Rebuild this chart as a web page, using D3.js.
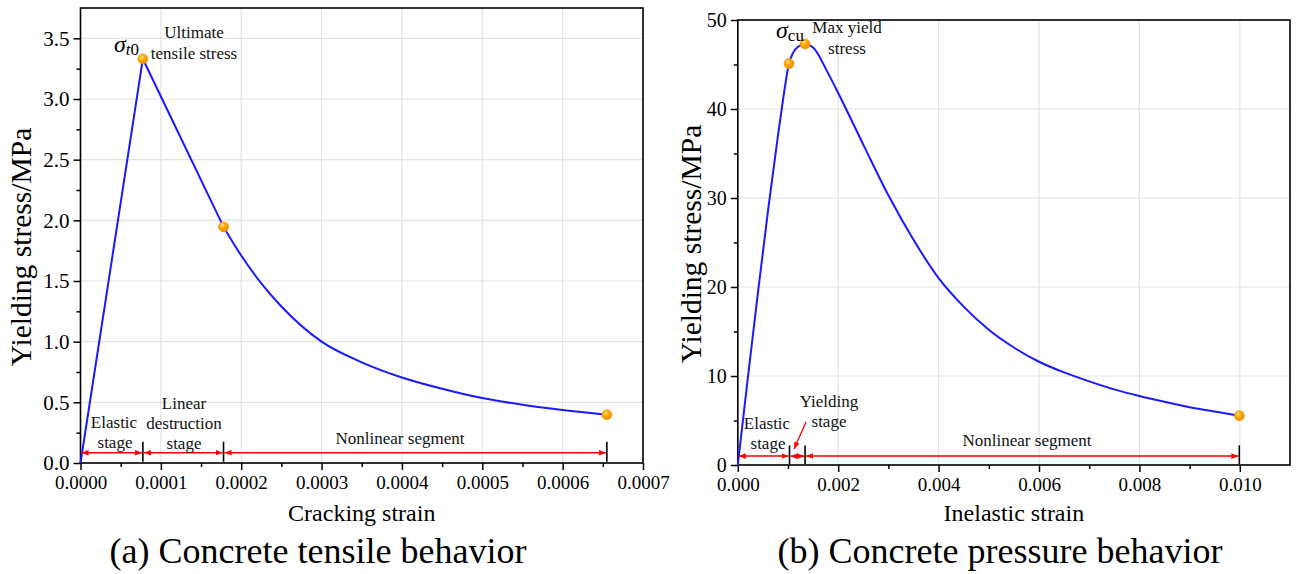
<!DOCTYPE html>
<html>
<head>
<meta charset="utf-8">
<script src="https://cdn.jsdelivr.net/npm/d3@7"></script>
<style>
  body { margin: 0; background: #fff; }
  svg { font-family: "Liberation Serif", "Times New Roman", serif; }
</style>
</head>
<body>
<svg width="1298" height="574"></svg>
<script>
// (a) tensile: cracking strain vs yielding stress
const tensileStrain = [0, 0.0000776, 0.000178, 0.0002, 0.000225, 0.00025, 0.0003, 0.00035, 0.0004, 0.00045, 0.0005, 0.00055, 0.0006, 0.000655];
const tensileStress = [0, 3.33, 1.946, 1.71, 1.48, 1.29, 1.0, 0.83, 0.705, 0.612, 0.535, 0.48, 0.437, 0.398];
const tensileMarks = [1, 2, 13];
const tensileStages = [0, 0.0000776, 0.000178, 0.000655];

// (b) compression: inelastic strain vs yielding stress
const pressStrain = [0, 0.0002, 0.0004, 0.0006, 0.0008, 0.0009, 0.00102, 0.0011, 0.0012, 0.00134, 0.0015, 0.0018, 0.002, 0.0025, 0.003, 0.0035, 0.004, 0.0045, 0.005, 0.0055, 0.006, 0.0065, 0.007, 0.0075, 0.008, 0.0085, 0.009, 0.0095, 0.00999];
const pressStress = [0, 9.8, 19.3, 28.5, 37.0, 41.0, 45.1, 46.3, 47.0, 47.3, 46.9, 44.0, 41.8, 36.0, 30.3, 25.3, 21.0, 17.8, 15.2, 13.2, 11.6, 10.4, 9.4, 8.5, 7.75, 7.1, 6.5, 6.0, 5.54];
const pressMarks = [6, 9, 28];
const pressStages = [0, 0.00103, 0.00134, 0.00999];

const tensileXTicks = [0, 0.0001, 0.0002, 0.0003, 0.0004, 0.0005, 0.0006, 0.0007];
const tensileYTicks = [0, 0.5, 1.0, 1.5, 2.0, 2.5, 3.0, 3.5];
const pressXTicks = [0, 0.002, 0.004, 0.006, 0.008, 0.010];
const pressYTicks = [0, 10, 20, 30, 40, 50];

const svg = d3.select("svg");

const defs = svg.append("defs");
const grad = defs.append("radialGradient").attr("id", "dot").attr("cx", "40%").attr("cy", "35%").attr("r", "65%");
grad.append("stop").attr("offset", "0%").attr("stop-color", "#ffe08a");
grad.append("stop").attr("offset", "45%").attr("stop-color", "#ffa800");
grad.append("stop").attr("offset", "100%").attr("stop-color", "#f08c00");

["arrowEnd", "arrowStart"].forEach((id, i) => {
    defs.append("marker")
        .attr("id", id)
        .attr("viewBox", "0 0 10 10")
        .attr("refX", i === 0 ? 10 : 0).attr("refY", 5)
        .attr("markerWidth", 7).attr("markerHeight", 7)
        .attr("markerUnits", "userSpaceOnUse")
        .attr("orient", "auto")
      .append("path")
        .attr("d", i === 0 ? "M0,1L10,5L0,9Z" : "M10,1L0,5L10,9Z")
        .attr("fill", "red");
});

function panel(opt) {
    const x = d3.scaleLinear().domain(opt.xDomain).range(opt.xRange);
    const y = d3.scaleLinear().domain(opt.yDomain).range(opt.yRange);
    const g = svg.append("g");
    const [x0, x1] = opt.xRange, [y0, y1] = opt.yRange;

    // grid
    g.selectAll(".gx").data(opt.xTicks).enter().append("line")
        .attr("x1", d => x(d)).attr("x2", d => x(d))
        .attr("y1", y0).attr("y2", y1)
        .attr("stroke", "#e3e3e3").attr("stroke-width", 1.2);
    g.selectAll(".gy").data(opt.yTicks).enter().append("line")
        .attr("x1", x0).attr("x2", x1)
        .attr("y1", d => y(d)).attr("y2", d => y(d))
        .attr("stroke", "#e3e3e3").attr("stroke-width", 1.2);

    // minor ticks
    const xm = g.append("g").attr("transform", "translate(0," + y0 + ")")
        .call(d3.axisBottom(x).tickValues(opt.xMinor).tickSize(4).tickFormat(""));
    const ym = g.append("g").attr("transform", "translate(" + x0 + ",0)")
        .call(d3.axisLeft(y).tickValues(opt.yMinor).tickSize(4).tickFormat(""));

    const xa = g.append("g").attr("transform", "translate(0," + y0 + ")")
        .call(d3.axisBottom(x).tickValues(opt.xTicks).tickSize(7).tickPadding(6).tickFormat(opt.xFormat));
    const ya = g.append("g").attr("transform", "translate(" + x0 + ",0)")
        .call(d3.axisLeft(y).tickValues(opt.yTicks).tickSize(7).tickPadding(4).tickFormat(opt.yFormat));
    [xm, ym, xa, ya].forEach(a => {
        a.select(".domain").remove();
        a.selectAll("line").attr("stroke", "#000").attr("stroke-width", 1.5);
        a.selectAll("text").attr("font-family", "Liberation Serif").attr("font-size", 19).attr("fill", "#000");
    });
    ya.selectAll("text").attr("font-size", opt.yTickSize);

    // frame
    g.append("rect").attr("x", x0).attr("y", y1).attr("width", x1 - x0).attr("height", y0 - y1)
        .attr("fill", "none").attr("stroke", "#000").attr("stroke-width", 1.6);

    // curve
    const pts = opt.xs.map((v, i) => [v, opt.ys[i]]);
    opt.pieces.forEach(p => {
        g.append("path")
            .datum(pts.slice(p[0], p[1] + 1))
            .attr("fill", "none").attr("stroke", "#1a1aff").attr("stroke-width", 2)
            .attr("d", d3.line().x(d => x(d[0])).y(d => y(d[1])).curve(p[2]));
    });

    // stage arrows
    const ay = y(opt.arrowY);
    for (let i = 0; i < opt.stages.length - 1; i++) {
        g.append("line")
            .attr("x1", x(opt.stages[i]) + 1).attr("x2", x(opt.stages[i + 1]) - 1)
            .attr("y1", ay).attr("y2", ay)
            .attr("stroke", "red").attr("stroke-width", 1.5)
            .attr("marker-start", "url(#arrowStart)").attr("marker-end", "url(#arrowEnd)");
    }
    g.selectAll(".bar").data(opt.stages.slice(1)).enter().append("line")
        .attr("x1", d => x(d)).attr("x2", d => x(d))
        .attr("y1", y(opt.barY[0])).attr("y2", y(opt.barY[1]))
        .attr("stroke", "#000").attr("stroke-width", 1.6);

    // markers
    g.selectAll(".dot").data(opt.marks).enter().append("circle")
        .attr("cx", i => x(opt.xs[i])).attr("cy", i => y(opt.ys[i]))
        .attr("r", 5).attr("fill", "url(#dot)").attr("stroke", "#f29000").attr("stroke-width", 0.6);

    // labels
    opt.notes.forEach(n => {
        g.append("text").attr("x", n[0]).attr("y", n[1]).attr("text-anchor", "middle")
            .attr("font-size", 17).attr("fill", "#111").text(n[2]);
    });

    // axis titles
    g.append("text").attr("x", (x0 + x1) / 2).attr("y", 521).attr("text-anchor", "middle")
        .attr("font-size", 24).text(opt.xTitle);
    g.append("text").attr("transform", "translate(" + opt.yTitleX + "," + opt.yTitleY + ") rotate(-90)")
        .attr("text-anchor", "middle").attr("font-size", 29.5).text("Yielding stress/MPa");
    g.append("text").attr("x", opt.captionX).attr("y", 563).attr("text-anchor", "middle")
        .attr("font-size", 36).text(opt.caption);
    return { g, x, y };
}

const a = panel({
    xDomain: [0, 0.0007], xRange: [80.5, 643],
    yDomain: [0, 3.75], yRange: [463, 8],
    xTicks: tensileXTicks, yTicks: tensileYTicks,
    xMinor: d3.range(0.00005, 0.0007, 0.0001), yMinor: d3.range(0.25, 3.75, 0.5),
    xFormat: d3.format(".4f"), yFormat: d3.format(".1f"), yTickSize: 21,
    xs: tensileStrain, ys: tensileStress,
    pieces: [[0, 2, d3.curveLinear], [2, 13, d3.curveMonotoneX]],
    marks: tensileMarks, stages: tensileStages,
    arrowY: 0.085, barY: [0.01, 0.175],
    notes: [[114, 428, "Elastic"], [115, 448, "stage"], [184, 409, "Linear"], [184, 429, "destruction"],
            [184, 449, "stage"], [400, 444, "Nonlinear  segment"], [194, 38, "Ultimate"], [194, 59, "tensile  stress"]],
    xTitle: "Cracking strain", yTitleX: 31, yTitleY: 247, caption: "(a) Concrete tensile behavior", captionX: 318
});

const b = panel({
    xDomain: [0, 0.011], xRange: [737.8, 1290],
    yDomain: [0, 50], yRange: [465, 20],
    xTicks: pressXTicks, yTicks: pressYTicks,
    xMinor: d3.range(0.001, 0.011, 0.002), yMinor: d3.range(5, 50, 10),
    xFormat: d3.format(".3f"), yFormat: d3.format("d"), yTickSize: 20,
    xs: pressStrain, ys: pressStress,
    pieces: [[0, 28, d3.curveMonotoneX]],
    marks: pressMarks, stages: pressStages,
    arrowY: 1.0, barY: [0.1, 2.2],
    notes: [[767, 429, "Elastic"], [768, 449, "stage"], [829, 407, "Yielding"], [829, 427, "stage"],
            [1027, 446, "Nonlinear  segment"], [847, 33, "Max yield"], [847, 54, "stress"]],
    xTitle: "Inelastic strain", yTitleX: 701, yTitleY: 244, caption: "(b) Concrete pressure behavior", captionX: 1000
});

// pointer arrow to the yielding stage
b.g.append("line").attr("x1", 806).attr("y1", 422).attr("x2", 794).attr("y2", 449)
    .attr("stroke", "red").attr("stroke-width", 1.3).attr("marker-end", "url(#arrowEnd)");

// sigma labels
const s1 = a.g.append("text").attr("x", 114).attr("y", 52).attr("font-size", 24);
s1.append("tspan").attr("font-style", "italic").text("σ");
s1.append("tspan").attr("dy", 3).attr("font-size", 17).attr("font-style", "italic").text("t");
s1.append("tspan").attr("font-size", 17).text("0");

const s2 = b.g.append("text").attr("x", 776).attr("y", 38).attr("font-size", 24);
s2.append("tspan").attr("font-style", "italic").text("σ");
s2.append("tspan").attr("dy", 3).attr("font-size", 17).text("cu");
</script>
</body>
</html>
